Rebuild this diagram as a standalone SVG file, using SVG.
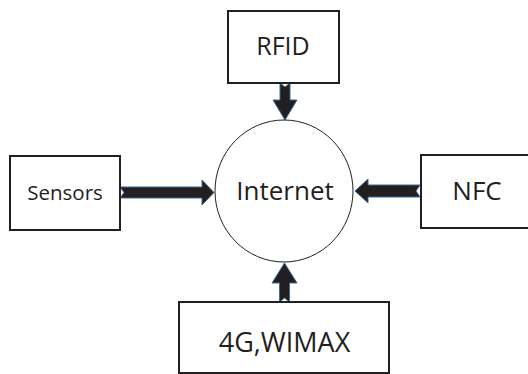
<svg xmlns="http://www.w3.org/2000/svg" width="528" height="374" viewBox="0 0 528 374">
<style>
.box{fill:#fff;stroke:#231f20;stroke-width:2}
.lbl{font-family:"Open Sans","Liberation Sans",sans-serif;fill:#231f20;text-anchor:middle}
.arr{fill:#231f20;stroke:#3a6b96;stroke-width:1;stroke-linejoin:miter}
</style>
<rect width="528" height="374" fill="#fff"/>
<g id="connectors">
<path class="arr" d="M120,187 L202,187 L202,180 L214,192.5 L202,205 L202,198 L120,198 L124,192.5 Z"/>
<path class="arr" d="M420,185 L368,185 L368,179 L355,191 L368,203 L368,197 L420,197 L416,191 Z"/>
<path class="arr" d="M280,83 L285,87 L290,83 L290,100 L297,100 L285,120 L273,100 L280,100 Z"/>
<path class="arr" d="M279.5,302 L284.5,298 L289.5,302 L289.5,283 L297,283 L284.5,263 L272,283 L279.5,283 Z"/>
</g>
<g id="internet">
<ellipse cx="284" cy="191" rx="69" ry="71" fill="#fff" fill-opacity="0" stroke="#231f20" stroke-width="1"/>
<text class="lbl" x="285" y="200" font-size="26">Internet</text>
</g>
<g id="rfid">
<rect class="box" x="228" y="11" width="111" height="72"/>
<text class="lbl" x="283" y="55" font-size="25">RFID</text>
</g>
<g id="sensors">
<rect class="box" x="10" y="156" width="110" height="74"/>
<text class="lbl" x="65" y="200" font-size="20.5">Sensors</text>
</g>
<g id="nfc">
<rect class="box" x="421" y="155" width="112" height="73"/>
<text class="lbl" x="477" y="200" font-size="26">NFC</text>
</g>
<g id="wimax">
<rect class="box" x="179" y="302" width="210" height="71"/>
<text class="lbl" x="284.5" y="352" font-size="27">4G,WIMAX</text>
</g>
</svg>
